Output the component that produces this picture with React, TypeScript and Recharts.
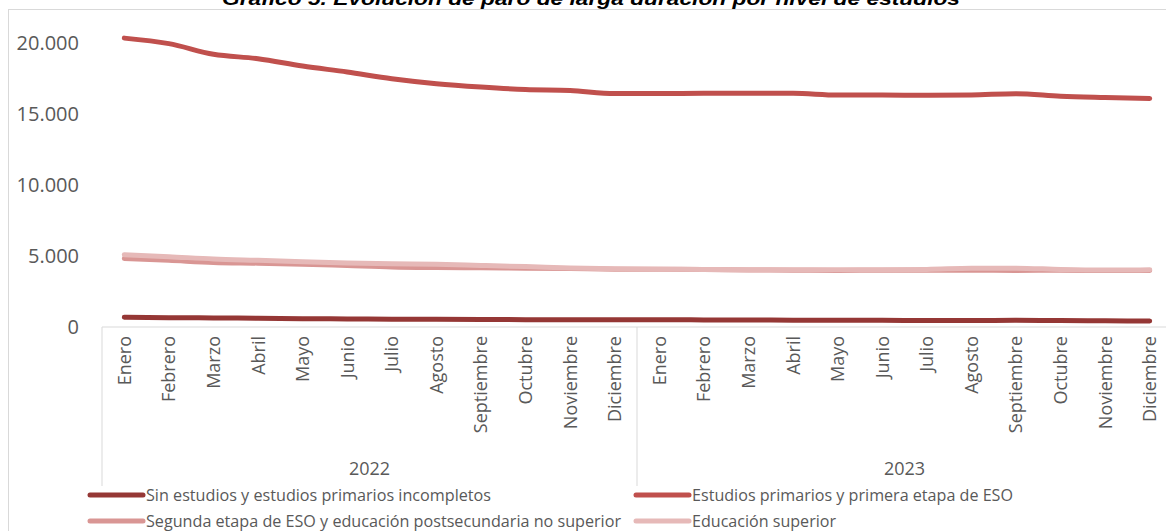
import React from "react";
import { LineChart, Line, XAxis, YAxis } from "recharts";

// Datos (parados de larga duración)
const years = ["2022", "2023"];
const months = [
  "Enero", "Febrero", "Marzo", "Abril", "Mayo", "Junio",
  "Julio", "Agosto", "Septiembre", "Octubre", "Noviembre", "Diciembre",
];

const sinEstudios = [
  690, 660, 640, 620, 590, 570, 550, 540, 530, 520, 520, 510,
  510, 500, 490, 480, 470, 470, 460, 460, 470, 460, 440, 420,
];
const primariaEso = [
  20370, 19980, 19230, 18920, 18400, 17980, 17510, 17160, 16920, 16740, 16670, 16460,
  16460, 16480, 16480, 16480, 16360, 16360, 16340, 16360, 16450, 16270, 16180, 16110,
];
const segundaEso = [
  4830, 4700, 4550, 4500, 4430, 4330, 4230, 4190, 4170, 4150, 4120, 4080,
  4070, 4050, 4020, 4010, 3990, 4000, 4000, 4000, 3990, 4000, 3980, 3990,
];
const superior = [
  5100, 4960, 4800, 4700, 4600, 4520, 4460, 4420, 4340, 4260, 4160, 4100,
  4080, 4060, 4040, 4030, 4030, 4040, 4060, 4140, 4150, 4060, 4020, 4030,
];

const yTicks = [0, 5000, 10000, 15000, 20000];

const series = [
  { key: "sin", name: "Sin estudios y estudios primarios incompletos", color: "#953735", values: sinEstudios },
  { key: "prim", name: "Estudios primarios y primera etapa de ESO", color: "#c0504d", values: primariaEso },
  { key: "seg", name: "Segunda etapa de ESO y educación postsecundaria no superior", color: "#d99694", values: segundaEso },
  { key: "sup", name: "Educación superior", color: "#e6b9b8", values: superior },
];

const data = years.flatMap((year, yi) =>
  months.map((month, mi) => {
    const i = yi * months.length + mi;
    const row: Record<string, string | number> = { id: `${year}-${month}`, month, year };
    series.forEach((s) => (row[s.key] = s.values[i]));
    return row;
  })
);

const FONT = "'Open Sans', sans-serif";
const GREY = "#595959";
const LINE_GREY = "#d9d9d9";
const PLOT_LEFT = 94;
const PLOT_WIDTH = 1070;
const BAND = PLOT_WIDTH / data.length;

const fmt = (v: number) => v.toLocaleString("de-DE");

const MonthTick = (props: any) => {
  const { x, y, payload } = props;
  const i = payload.index;
  const row = data[i];
  const left = x - BAND / 2;
  return (
    <g>
      <text
        x={x}
        y={y + 9}
        transform={`rotate(-90, ${x}, ${y + 9})`}
        textAnchor="end"
        dy="0.36em"
        fill={GREY}
        fontSize={18}
        fontFamily={FONT}
      >
        {row.month}
      </text>
      {i % 12 === 0 && (
        <>
          <line x1={left} x2={left} y1={y} y2={y + 159} stroke={LINE_GREY} />
          <text
            x={left + 6 * BAND}
            y={y + 148}
            textAnchor="middle"
            fill={GREY}
            fontSize={18}
            fontFamily={FONT}
          >
            {row.year}
          </text>
        </>
      )}
      {i === data.length - 1 && (
        <line x1={x + BAND / 2} x2={x + BAND / 2} y1={y} y2={y + 159} stroke={LINE_GREY} />
      )}
    </g>
  );
};

const legendItems = [
  { s: series[0], x: 80, y: 495, len: 345 },
  { s: series[1], x: 626, y: 495, len: 321 },
  { s: series[2], x: 80, y: 521, len: 475 },
  { s: series[3], x: 626, y: 521, len: 144 },
];

export default function App() {
  return (
    <div
      style={{
        position: "absolute",
        left: 8,
        top: 0,
        width: 1158,
        height: 531,
        overflow: "hidden",
        background: "#fff",
      }}
    >
      <div
        style={{
          position: "absolute",
          left: 0,
          top: 9,
          width: 1300,
          height: 700,
          borderLeft: `1px solid ${LINE_GREY}`,
          borderTop: `1px solid ${LINE_GREY}`,
        }}
      />
      <svg style={{ position: "absolute", left: 0, top: 0 }} width={1158} height={20}>
        <text
          x={583}
          y={5}
          textAnchor="middle"
          fontFamily="'Liberation Sans', Arial, sans-serif"
          fontWeight="bold"
          fontStyle="italic"
          fontSize={19}
          textLength={738}
          lengthAdjust="spacingAndGlyphs"
          fill="#000"
        >
          Gráfico 5. Evolución de paro de larga duración por nivel de estudios
        </text>
      </svg>
      <div style={{ position: "absolute", left: 0, top: 0 }}>
        <LineChart
          width={PLOT_LEFT + PLOT_WIDTH}
          height={531}
          data={data}
          margin={{ top: 15, right: 0, bottom: 0, left: 0 }}
        >
          <XAxis
            dataKey="id"
            height={204}
            interval={0}
            tickLine={false}
            tickSize={0}
            tickMargin={0}
            axisLine={{ stroke: LINE_GREY }}
            padding={{ left: BAND / 2, right: BAND / 2 }}
            tick={<MonthTick />}
          />
          <YAxis
            width={PLOT_LEFT}
            domain={[0, 22000]}
            ticks={yTicks}
            tickFormatter={fmt}
            axisLine={false}
            tickLine={false}
            tickSize={0}
            tickMargin={23}
            tick={{ fill: GREY, fontSize: 20, fontFamily: FONT }}
          />
          {series.map((s) => (
            <Line
              key={s.key}
              dataKey={s.key}
              name={s.name}
              type="monotone"
              stroke={s.color}
              strokeWidth={5}
              strokeLinecap="round"
              strokeLinejoin="round"
              dot={false}
              activeDot={false}
              isAnimationActive={false}
            />
          ))}
        </LineChart>
      </div>
      <svg style={{ position: "absolute", left: 0, top: 0 }} width={1158} height={531} pointerEvents="none">
        {legendItems.map(({ s, x, y, len }) => (
          <g key={s.key}>
            <line x1={x + 2} x2={x + 55} y1={y} y2={y} stroke={s.color} strokeWidth={5} strokeLinecap="round" />
            <text
              x={x + 58}
              y={y}
              dy="0.35em"
              fill={GREY}
              fontSize={16}
              fontFamily={FONT}
              textLength={len}
              lengthAdjust="spacingAndGlyphs"
            >
              {s.name}
            </text>
          </g>
        ))}
      </svg>
    </div>
  );
}
